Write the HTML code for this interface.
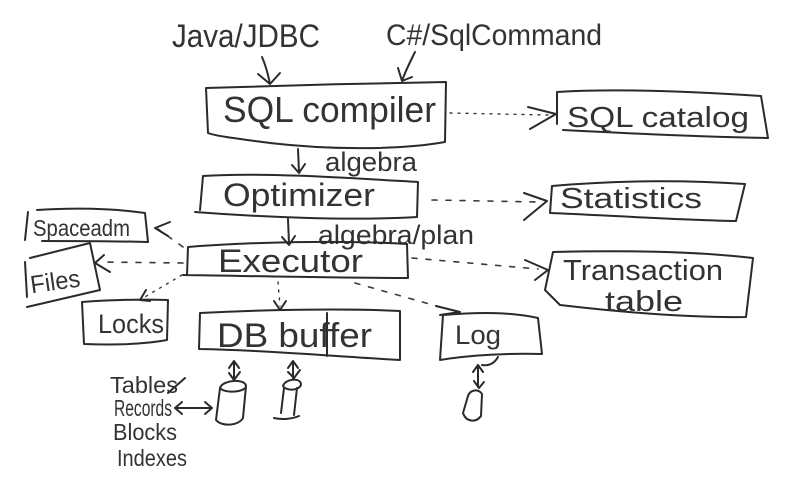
<!DOCTYPE html>
<html><head><meta charset="utf-8"><style>
html,body{margin:0;padding:0;background:#fff;}
svg{display:block;}
text{font-family:"Liberation Sans",sans-serif;fill:#333;}
.s{fill:none;stroke:#2a2a2a;stroke-width:2;stroke-linecap:round;stroke-linejoin:round;}
.d{fill:none;stroke:#3a3a3a;stroke-width:1.6;stroke-dasharray:5 9;stroke-linecap:round;}
.t{fill:none;stroke:#3a3a3a;stroke-width:1.4;stroke-dasharray:2 6;stroke-linecap:round;}
</style></head><body>
<svg width="801" height="492" viewBox="0 0 801 492" xmlns="http://www.w3.org/2000/svg">
<!-- top labels -->
<text x="172" y="47" font-size="32" textLength="148" lengthAdjust="spacingAndGlyphs">Java/JDBC</text>
<text x="386" y="45" font-size="30" textLength="216" lengthAdjust="spacingAndGlyphs">C#/SqlCommand</text>
<path class="s" d="M262,57 C266,66 268,74 270,84 M258,74 L270,84 L280,73"/>
<path class="s" d="M415,52 C410,62 405,72 402,81 M398,68 L402,81 L412,77"/>

<!-- SQL compiler -->
<path class="s" d="M206,88 C260,86 380,83 446,82 L445,142 C400,150 330,150 270,143 C240,139 215,136 208,133 Z"/>
<text x="223" y="122" font-size="36" textLength="213" lengthAdjust="spacingAndGlyphs">SQL compiler</text>

<!-- to catalog -->
<path class="t" d="M450,113 L548,115"/>
<path class="s" d="M528,107 L556,114 L530,129"/>
<path class="s" d="M557,92 C620,88 700,92 761,96 L768,138 C700,137 620,133 563,130 M557,92 L557,124"/>
<text x="567" y="127" font-size="29" textLength="182" lengthAdjust="spacingAndGlyphs">SQL catalog</text>

<!-- algebra -->
<path class="s" d="M298,149 L299,172 M292,165 L299,173 L305,164"/>
<text x="325" y="171" font-size="27" textLength="92" lengthAdjust="spacingAndGlyphs">algebra</text>

<!-- Optimizer -->
<path class="s" d="M203,176 C260,172 350,178 418,182 L417,217 C350,221 260,217 195,212 M203,176 L200,210"/>
<text x="223" y="206" font-size="32" textLength="152" lengthAdjust="spacingAndGlyphs">Optimizer</text>

<!-- to statistics -->
<path class="d" d="M432,200 L540,202"/>
<path class="s" d="M524,193 L547,201 L524,220"/>
<path class="s" d="M552,186 C620,180 690,180 745,184 L736,221 C680,220 600,215 551,213 M552,186 L550,213"/>
<text x="560" y="208" font-size="29" textLength="142" lengthAdjust="spacingAndGlyphs">Statistics</text>

<!-- algebra/plan -->
<path class="s" d="M288,219 L289,244 M282,237 L289,245 L295,236"/>
<text x="318" y="244" font-size="27" textLength="156" lengthAdjust="spacingAndGlyphs">algebra/plan</text>

<!-- Executor -->
<path class="s" d="M188,247 C250,242 340,240 407,244 L408,278 C340,278 250,276 183,275 M188,247 L187,275"/>
<text x="218" y="272" font-size="32" textLength="145" lengthAdjust="spacingAndGlyphs">Executor</text>

<!-- Spaceadm -->
<path class="d" d="M183,247 L158,229"/>
<path class="s" d="M170,222 L155,228 L168,236"/>
<path class="s" d="M37,210 C70,208 110,208 145,213 L148,242 C110,241 70,241 42,241 M28,212 L25,240"/>
<text x="33" y="236" font-size="23" textLength="97" lengthAdjust="spacingAndGlyphs">Spaceadm</text>

<!-- Files -->
<path class="d" d="M183,263 L100,262"/>
<path class="s" d="M104,255 L95,263 L110,272"/>
<path class="s" d="M30,258 L90,243 L100,290 L27,307 M25,262 L27,297"/>
<text x="30" y="290" font-size="25" textLength="50" lengthAdjust="spacingAndGlyphs" transform="rotate(-8 55 280)">Files</text>

<!-- Locks -->
<path class="t" d="M182,275 L143,298"/>
<path class="s" d="M140,300 L146,290 M140,300 L150,301"/>
<path class="s" d="M82,302 C110,300 140,299 168,300 L167,340 C140,345 110,345 84,344 Z"/>
<text x="98" y="333" font-size="27" textLength="66" lengthAdjust="spacingAndGlyphs">Locks</text>

<!-- DB buffer -->
<path class="t" d="M278,282 L280,306"/>
<path class="s" d="M274,301 L280,310 L286,301"/>
<path class="s" d="M200,313 C260,310 340,308 400,311 L400,360 C330,356 260,350 199,349 Z M327,313 L327,356"/>
<text x="217" y="347" font-size="34" textLength="155" lengthAdjust="spacingAndGlyphs">DB buffer</text>

<!-- Log -->
<path class="d" d="M355,283 L440,307"/>
<path class="s" d="M436,306 L460,312 L440,315"/>
<path class="s" d="M443,315 C480,312 510,312 538,318 L542,354 C510,353 470,355 440,360 Z"/>
<text x="455" y="344" font-size="27" textLength="46" lengthAdjust="spacingAndGlyphs">Log</text>

<!-- Transaction table -->
<path class="d" d="M412,258 L538,269"/>
<path class="s" d="M525,260 L548,270 L535,280"/>
<path class="s" d="M553,252 C640,250 700,252 753,258 L746,317 C690,318 620,312 560,305 L545,290 Z"/>
<text x="563" y="280" font-size="29" textLength="160" lengthAdjust="spacingAndGlyphs">Transaction</text>
<text x="605" y="311" font-size="29" textLength="78" lengthAdjust="spacingAndGlyphs">table</text>

<!-- cylinders -->
<path class="s" d="M234,362 L234,378 M229,368 L234,361 L239,368 M229,373 L234,380 L240,372"/>
<path class="s" d="M220,388 C222,380 245,378 246,386 C246,392 225,394 220,388 M220,388 L216,420 C222,427 238,426 243,418 L246,386"/>
<path class="s" d="M293,362 L293,378 M288,368 L293,361 L298,368 M288,372 L294,378 L300,370"/>
<path class="s" d="M283,386 C285,379 300,377 301,384 C301,390 287,392 283,386 M284,388 L281,413 M297,388 L294,415 M274,418 C282,420 292,419 299,416"/>
<path class="s" d="M498,357 C494,364 488,366 482,365 M478,365 L478,386 M473,372 L478,365 L483,372 M474,381 L479,388 L484,382 M468,396 L463,413 C466,422 476,423 481,416 L482,394 C478,388 470,390 468,396"/>

<!-- left labels -->
<text x="110" y="393" font-size="23" textLength="68" lengthAdjust="spacingAndGlyphs">Tables</text>
<text x="114" y="416" font-size="23" textLength="58" lengthAdjust="spacingAndGlyphs">Records</text>
<text x="113" y="440" font-size="23" textLength="64" lengthAdjust="spacingAndGlyphs">Blocks</text>
<text x="117" y="466" font-size="23" textLength="70" lengthAdjust="spacingAndGlyphs">Indexes</text>
<path class="s" d="M176,408 L212,408 M182,402 L175,408 L182,414 M205,402 L212,408 L205,414"/>
<path class="s" d="M168,393 L185,378"/>
</svg>
</body></html>
